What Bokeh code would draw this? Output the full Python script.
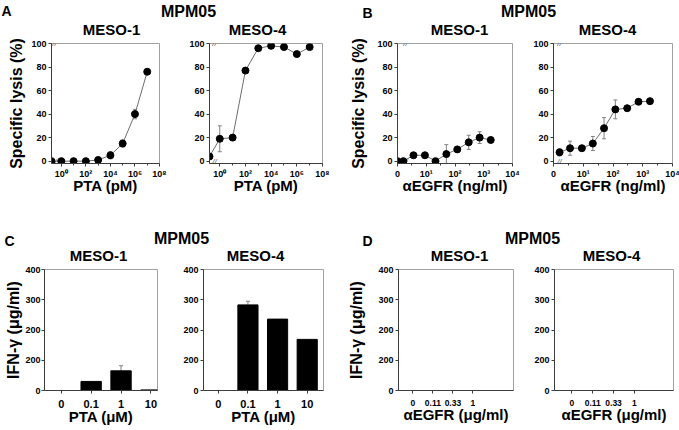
from bokeh.plotting import figure
from bokeh.models import Range1d, FixedTicker, ColumnDataSource, Whisker, TeeHead
from bokeh.layouts import column, row
from bokeh.embed import file_html
from bokeh.resources import INLINE
from bokeh.core.properties import value

FONT = "Liberation Sans"

# ---------------- Data ----------------
# Panel A: PTA dose (pM) vs specific lysis (%)
pta_doses_pM = [0, 1, 10, 100, 1000, 10000, 100000, 1000000, 10000000]
lysis_A_meso1 = [0, 0, 0, 0, 1, 5, 15, 40, 76]
err_A_meso1 = [0, 0, 0, 2, 0, 3, 3, 4, 0]
lysis_A_meso4 = [4, 19, 20, 77, 96, 98, 97, 91, 97]
err_A_meso4 = [0, 11, 0, 0, 0, 0, 0, 0, 0]
pta_ticks = [1, 100, 10000, 1000000, 100000000]
pta_tick_labels = ["10⁰", "10²", "10⁴", "10⁶", "10⁸"]
pta_minor = [10, 1000, 100000, 10000000]

# Panel B: aEGFR dose (ng/ml) vs specific lysis (%)
egfr_doses_ngml = [0, 1.6, 3.6, 9, 21, 50, 120, 300, 720, 1750]
lysis_B_meso1 = [0, 0, 5, 5, 0, 6, 10, 16, 20, 18]
err_B_meso1 = [0, 0, 0, 0, 0, 8, 1, 6, 5, 0]
egfr_doses_meso4 = [1.6, 3.6, 9, 21, 50, 120, 300, 720, 1750]
lysis_B_meso4 = [7.5, 11, 11, 15, 28, 44, 45, 50.5, 51]
err_B_meso4 = [3, 6, 0, 6, 9, 8, 0, 0, 0]
egfr_ticks = [1, 10, 100, 1000, 10000]
egfr_tick_labels = ["0", "10¹", "10²", "10³", "10⁴"]
egfr_minor = [3.16, 31.6, 316, 3160]

lysis_ticks = [0, 20, 40, 60, 80, 100]

# Panel C: PTA (uM) vs IFN-gamma
pta_uM_cats = ["0", "0.1", "1", "10"]
ifng_C_meso1 = [0, 30, 65, 2]
err_C_meso1 = [0, 0, 17, 0]
ifng_C_meso4 = [0, 283, 236, 169]
err_C_meso4 = [0, 12, 0, 0]

# Panel D: aEGFR (ug/ml) vs IFN-gamma
egfr_ugml_cats = ["0", "0.11", "0.33", "1"]
ifng_D_meso1 = [0, 0, 0, 0]
ifng_D_meso4 = [0, 0, 0, 0]

ifng_ticks = [0, 100, 200, 300, 400]
ifng_tick_labels = ["0", "200", "200", "300", "400"]

AXC = "#3c3c3c"
ERR = "#808080"
LINE = "#6e6e6e"
W = 679


def base_fig(fw, fh, bl, br, bt, bb, xr, yr, x_type="linear"):
    p = figure(frame_width=fw, frame_height=fh, min_border_left=bl, min_border_right=br,
               min_border_top=bt, min_border_bottom=bb, x_range=xr, y_range=yr,
               x_axis_type=x_type, toolbar_location=None, output_backend="svg")
    p.grid.visible = False
    p.outline_line_color = "#a0a0a0"
    p.outline_line_width = 1
    for ax in (p.xaxis[0], p.yaxis[0]):
        ax.axis_line_color = AXC
        ax.major_tick_line_color = AXC
        ax.minor_tick_line_color = AXC
        ax.major_tick_in = 0
        ax.major_tick_out = 3
        ax.minor_tick_in = 0
        ax.minor_tick_out = 2
        ax.major_label_text_font = FONT
        ax.major_label_text_font_style = "bold"
        ax.major_label_text_color = "black"
        ax.major_label_text_font_size = "9px"
        ax.axis_label_text_font = FONT
        ax.axis_label_text_font_style = "bold"
        ax.axis_label_text_color = "black"
        ax.axis_label_text_font_size = "15px"
    return p


def add_err(p, xs, ys, errs, both=True):
    idx = [i for i, e in enumerate(errs) if e > 0]
    if not idx:
        return
    src = ColumnDataSource(dict(
        base=[xs[i] for i in idx],
        upper=[ys[i] + errs[i] for i in idx],
        lower=[(ys[i] - errs[i]) if both else ys[i] for i in idx]))
    w = Whisker(source=src, base="base", upper="upper", lower="lower",
                line_color=ERR, line_width=1,
                upper_head=TeeHead(size=4, line_color=ERR, line_width=1),
                lower_head=TeeHead(size=4, line_color=ERR, line_width=1) if both else None)
    p.add_layout(w)


def lysis_fig(doses, vals, errs, xr, ticks, labels, minor, xlabel, ylabel, fw, bl, br,
              ylab_standoff=6, brk_off=5):
    p = base_fig(fw, 120, bl, br, 5, 65, xr, Range1d(-2, 100), x_type="log")
    xmin = xr.start
    xs = [d if d > 0 else xmin for d in doses]
    # axis-break marks next to the y axis
    p.text(x=[xmin, xmin], y=[100, 0], text=["//", "//"], x_offset=brk_off,
           text_align="center", text_baseline="middle", text_font=value(FONT),
           text_font_style="italic", text_font_size="8px", text_color="#555555")
    p.line(xs, vals, line_color=LINE, line_width=1)
    add_err(p, xs, vals, errs)
    p.scatter(xs, vals, size=7, marker="circle", fill_color="black", line_color="black")
    p.xaxis.ticker = FixedTicker(ticks=ticks, minor_ticks=minor)
    p.xaxis.major_label_overrides = {t: l for t, l in zip(ticks, labels)}
    p.xaxis.major_label_standoff = 2
    p.xaxis.axis_label = xlabel
    p.xaxis.axis_label_standoff = -5
    p.yaxis.ticker = FixedTicker(ticks=lysis_ticks)
    p.yaxis.major_label_standoff = 2
    if ylabel:
        p.yaxis.axis_label = ylabel
        p.yaxis.axis_label_text_font_size = "16px"
        p.yaxis.axis_label_standoff = ylab_standoff
    return p


def ifng_fig(cats, vals, errs, xr, xlabel, ylabel, fw, bl, br, ylab_standoff=2,
             xtick_size="11px", ytick_standoff=2):
    p = base_fig(fw, 121, bl, br, 5, 40, xr, Range1d(0, 400))
    pos = list(range(len(cats)))
    p.vbar(x=pos, top=vals, width=0.68, fill_color="black", line_color="black")
    if errs is not None:
        add_err(p, pos, vals, errs, both=False)
    p.xaxis.ticker = FixedTicker(ticks=pos)
    p.xaxis.major_label_overrides = {i: c for i, c in zip(pos, cats)}
    p.xaxis.major_label_text_font_size = xtick_size
    p.xaxis.major_label_standoff = 6
    p.xaxis.axis_label = xlabel
    p.xaxis.axis_label_standoff = -3
    p.yaxis.ticker = FixedTicker(ticks=ifng_ticks)
    p.yaxis.major_label_overrides = {t: l for t, l in zip(ifng_ticks, ifng_tick_labels)}
    p.yaxis.major_label_standoff = ytick_standoff
    if ylabel:
        p.yaxis.axis_label = ylabel
        p.yaxis.axis_label_text_font_size = "16px"
        p.yaxis.axis_label_standoff = ylab_standoff
    return p


def header(h, items):
    p = figure(width=W, height=h, x_range=Range1d(0, W), y_range=Range1d(h, 0),
               x_axis_location=None, y_axis_location=None, toolbar_location=None,
               output_backend="svg", min_border=0)
    p.grid.visible = False
    p.outline_line_color = None
    for (x, y, txt, size, align) in items:
        p.text(x=[x], y=[y], text=[txt], text_align=align, text_baseline="middle",
               text_font=value(FONT), text_font_style="bold", text_font_size=size,
               text_color="black")
    return p


A_range = lambda: Range1d(10 ** -0.8, 1e8)
B_range = lambda: Range1d(1, 1e4)

a1 = lysis_fig(pta_doses_pM, lysis_A_meso1, err_A_meso1, A_range(), pta_ticks, pta_tick_labels,
               pta_minor, "PTA (pM)", "Specific lysis (%)", 108, 51, 25, ylab_standoff=3, brk_off=3)
a2 = lysis_fig(pta_doses_pM, lysis_A_meso4, err_A_meso4, A_range(), pta_ticks, pta_tick_labels,
               pta_minor, "PTA (pM)", None, 113, 25, 18, brk_off=5)
b1 = lysis_fig(egfr_doses_ngml, lysis_B_meso1, err_B_meso1, B_range(), egfr_ticks, egfr_tick_labels,
               egfr_minor, "αEGFR (ng/ml)", "Specific lysis (%)", 115, 57, 18, ylab_standoff=7, brk_off=8)
b2 = lysis_fig(egfr_doses_meso4, lysis_B_meso4, err_B_meso4, B_range(), egfr_ticks, egfr_tick_labels,
               egfr_minor, "αEGFR (ng/ml)", None, 119, 22, 8, brk_off=6)

c1 = ifng_fig(pta_uM_cats, ifng_C_meso1, err_C_meso1, Range1d(-0.56, 3.22), "PTA (μM)",
              "IFN-γ (μg/ml)", 113, 44, 23, ylab_standoff=0, ytick_standoff=1)
c2 = ifng_fig(pta_uM_cats, ifng_C_meso4, err_C_meso4, Range1d(-0.5, 3.55), "PTA (μM)",
              None, 120, 22, 18)
d1 = ifng_fig(egfr_ugml_cats, ifng_D_meso1, None, Range1d(-0.72, 5.03), "αEGFR (μg/ml)",
              "IFN-γ (μg/ml)", 115, 57, 18, ylab_standoff=10, xtick_size="8.5px")
d2 = ifng_fig(egfr_ugml_cats, ifng_D_meso4, None, Range1d(-0.83, 4.87), "αEGFR (μg/ml)",
              None, 119, 22, 8, xtick_size="8.5px")

h1 = header(38, [
    (1, 10, "A", "14px", "left"),
    (188, 11, "MPM05", "16px", "center"),
    (362, 12, "B", "14px", "left"),
    (528, 11, "MPM05", "16px", "center"),
    (111, 29, "MESO-1", "15px", "center"),
    (257, 29, "MESO-4", "15px", "center"),
    (459, 29, "MESO-1", "15px", "center"),
    (607, 29, "MESO-4", "15px", "center"),
])
h2 = header(36, [
    (4, 12, "C", "14px", "left"),
    (181, 10, "MPM05", "16px", "center"),
    (362, 12, "D", "14px", "left"),
    (532, 10, "MPM05", "16px", "center"),
    (98, 27, "MESO-1", "15px", "center"),
    (255, 27, "MESO-4", "15px", "center"),
    (459, 27, "MESO-1", "15px", "center"),
    (611, 27, "MESO-4", "15px", "center"),
])

layout = column(h1, row(a1, a2, b1, b2), h2, row(c1, c2, d1, d2))

open("out.html", "w").write(file_html(layout, INLINE))
